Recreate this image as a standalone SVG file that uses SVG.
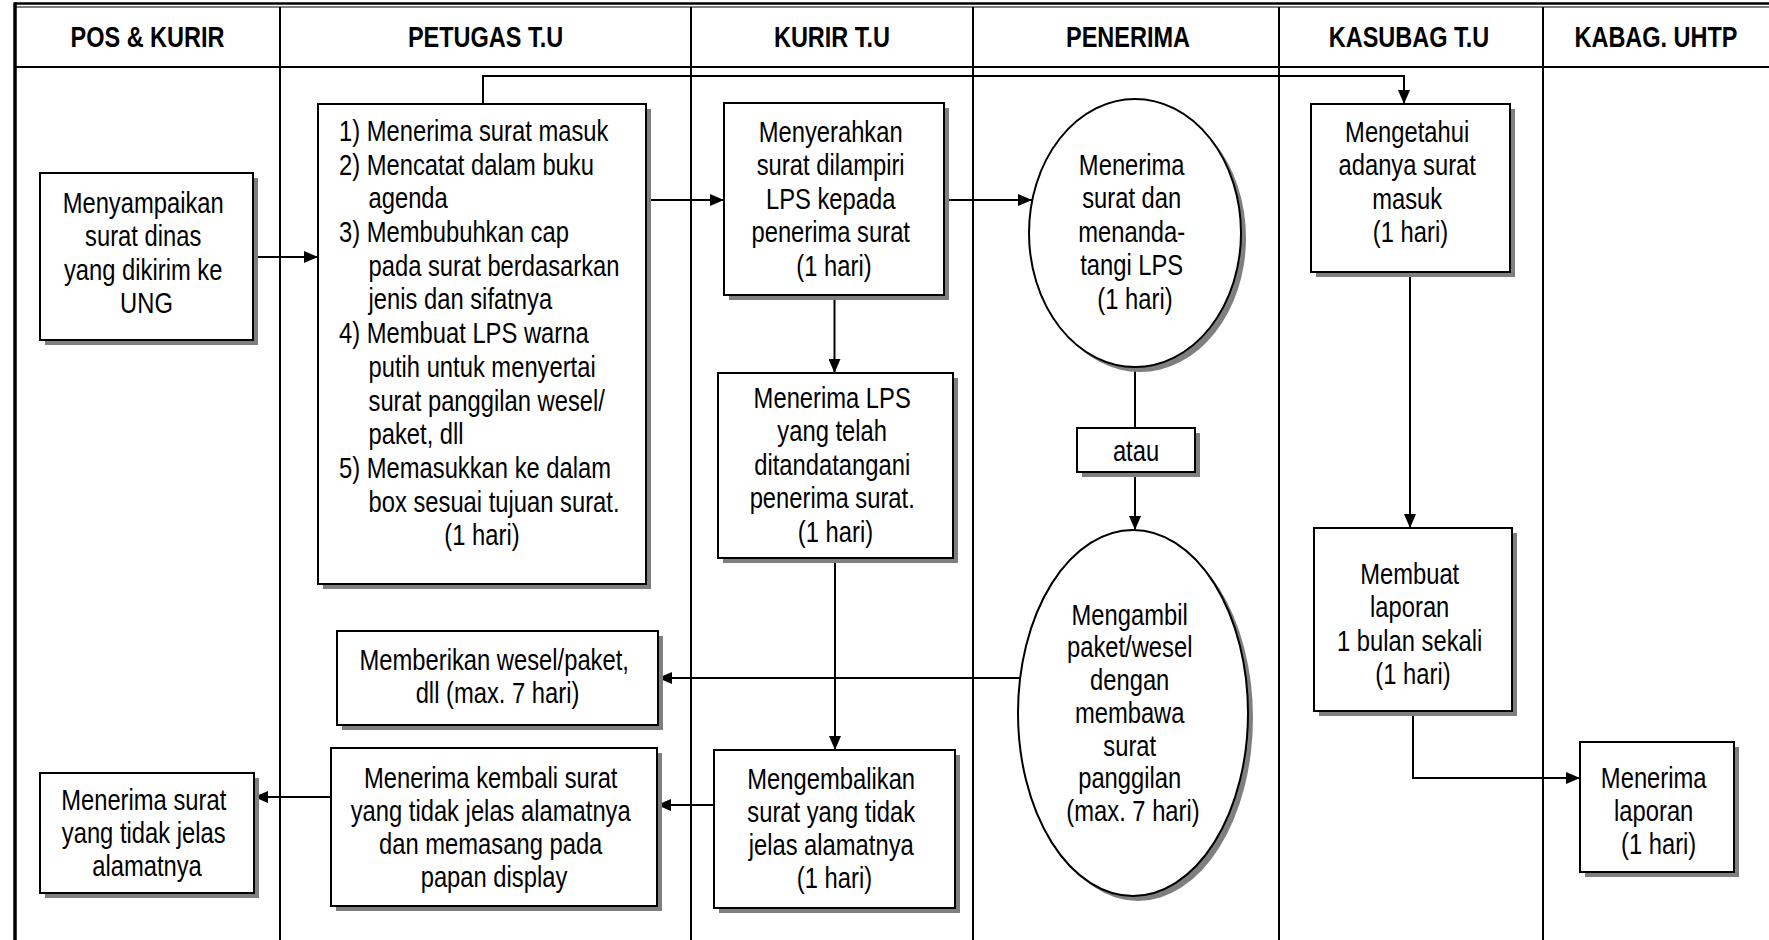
<svg xmlns="http://www.w3.org/2000/svg" width="1769" height="940" viewBox="0 0 1769 940">
  <style>
    .lane { stroke: #000; stroke-width: 2; fill: none; }
    .box { fill: #fff; stroke: #000; stroke-width: 2; }
    .shadow { fill: #7f7f7f; stroke: none; }
    .wire { stroke: #000; stroke-width: 2; fill: none; }
    .arrow { marker-end: url(#head); }
    .t { font-family: "Liberation Sans", Arial, sans-serif; font-size: 29px; fill: #000; }
    .c { text-anchor: middle; }
    .h { font-family: "Liberation Sans", Arial, sans-serif; font-size: 29px; font-weight: bold; text-anchor: middle; fill: #000; }
  </style>
  <defs>
    <marker id="head" markerUnits="userSpaceOnUse" markerWidth="14" markerHeight="12" refX="14" refY="6" orient="auto">
      <path d="M0,0 L14,6 L0,12 Z" fill="#000"/>
    </marker>
  </defs>
  <rect width="1769" height="940" fill="#fff"/>

  <!-- swimlane frame and headers -->
  <g id="lanes">
    <line x1="14" y1="3.5" x2="1769" y2="3.5" stroke="#000" stroke-width="2.5"/>
    <line x1="14" y1="7" x2="1769" y2="7" stroke="#000" stroke-width="1"/>
    <line x1="15" y1="2.5" x2="15" y2="940" stroke="#000" stroke-width="3.5"/>
    <line class="lane" x1="14" y1="67" x2="1769" y2="67"/>
    <line class="lane" x1="280" y1="7" x2="280" y2="940"/>
    <line class="lane" x1="691" y1="7" x2="691" y2="940"/>
    <line class="lane" x1="973" y1="7" x2="973" y2="940"/>
    <line class="lane" x1="1279" y1="7" x2="1279" y2="940"/>
    <line class="lane" x1="1543" y1="7" x2="1543" y2="940"/>
    <text class="h" transform="matrix(0.81 0 0 1 147.5 0)" x="0" y="47">POS &amp; KURIR</text>
    <text class="h" transform="matrix(0.81 0 0 1 485.5 0)" x="0" y="47">PETUGAS T.U</text>
    <text class="h" transform="matrix(0.81 0 0 1 832 0)" x="0" y="47">KURIR T.U</text>
    <text class="h" transform="matrix(0.81 0 0 1 1128 0)" x="0" y="47">PENERIMA</text>
    <text class="h" transform="matrix(0.81 0 0 1 1409 0)" x="0" y="47">KASUBAG T.U</text>
    <text class="h" transform="matrix(0.81 0 0 1 1656 0)" x="0" y="47">KABAG. UHTP</text>
  </g>

  <!-- connectors -->
  <g id="connectors">
    <line class="wire arrow" x1="253" y1="257" x2="318" y2="257"/>
    <line class="wire arrow" x1="646" y1="200" x2="724" y2="200"/>
    <line class="wire arrow" x1="944" y1="200" x2="1032" y2="200"/>
    <polyline class="wire arrow" points="483,104 483,76 1404,76 1404,104"/>
    <line class="wire arrow" x1="834.5" y1="295" x2="834.5" y2="373"/>
    <line class="wire arrow" x1="835" y1="558" x2="835" y2="750"/>
    <line class="wire" x1="1135" y1="367" x2="1135" y2="428"/>
    <line class="wire arrow" x1="1135" y1="472" x2="1135" y2="530"/>
    <line class="wire arrow" x1="1020" y1="678" x2="658" y2="678"/>
    <line class="wire arrow" x1="714" y1="805" x2="657" y2="805"/>
    <line class="wire arrow" x1="331" y1="797" x2="254" y2="797"/>
    <line class="wire arrow" x1="1410" y1="272" x2="1410" y2="528"/>
    <polyline class="wire arrow" points="1413,711 1413,778 1580,778"/>
  </g>

  <g id="n-menyampaikan">
    <rect class="shadow" x="45" y="178" width="213" height="167"/>
    <rect class="box" x="40" y="173" width="213" height="167"/>
    <text class="t c" transform="matrix(0.82 0 0 1 146.5 0)">
      <tspan x="0" y="213">Menyampaikan</tspan>
      <tspan x="0" y="246.5">surat dinas</tspan>
      <tspan x="0" y="280">yang dikirim ke</tspan>
      <tspan x="0" y="313.5">UNG</tspan>
    </text>
  </g>

  <g id="n-petugas">
    <rect class="shadow" x="323" y="109" width="328" height="480"/>
    <rect class="box" x="318" y="104" width="328" height="480"/>
    <text class="t" transform="matrix(0.82 0 0 1 339 0)">
      <tspan x="0" y="141">1) Menerima surat masuk</tspan>
      <tspan x="0" y="174.7">2) Mencatat dalam buku</tspan>
      <tspan x="36" y="208.4">agenda</tspan>
      <tspan x="0" y="242.1">3) Membubuhkan cap</tspan>
      <tspan x="36" y="275.8">pada surat berdasarkan</tspan>
      <tspan x="36" y="309.5">jenis dan sifatnya</tspan>
      <tspan x="0" y="343.2">4) Membuat LPS warna</tspan>
      <tspan x="36" y="376.9">putih untuk menyertai</tspan>
      <tspan x="36" y="410.6">surat panggilan wesel/</tspan>
      <tspan x="36" y="444.3">paket, dll</tspan>
      <tspan x="0" y="478">5) Memasukkan ke dalam</tspan>
      <tspan x="36" y="511.7">box sesuai tujuan surat.</tspan>
    </text>
    <text class="t c" transform="matrix(0.82 0 0 1 482 0)" x="0" y="545.4">(1 hari)</text>
  </g>

  <g id="n-menyerahkan">
    <rect class="shadow" x="729" y="108" width="220" height="192"/>
    <rect class="box" x="724" y="103" width="220" height="192"/>
    <text class="t c" transform="matrix(0.82 0 0 1 834 0)">
      <tspan x="0" y="142">Menyerahkan</tspan>
      <tspan x="0" y="175.5">surat dilampiri</tspan>
      <tspan x="0" y="209">LPS kepada</tspan>
      <tspan x="0" y="242.5">penerima surat</tspan>
      <tspan x="0" y="276">(1 hari)</tspan>
    </text>
  </g>

  <g id="n-menerima-lps">
    <rect class="shadow" x="723" y="378" width="235" height="185"/>
    <rect class="box" x="718" y="373" width="235" height="185"/>
    <text class="t c" transform="matrix(0.82 0 0 1 835.5 0)">
      <tspan x="0" y="408">Menerima LPS</tspan>
      <tspan x="0" y="441.5">yang telah</tspan>
      <tspan x="0" y="475">ditandatangani</tspan>
      <tspan x="0" y="508.5">penerima surat.</tspan>
      <tspan x="0" y="542">(1 hari)</tspan>
    </text>
  </g>

  <g id="n-mengembalikan">
    <rect class="shadow" x="719" y="755" width="241" height="158"/>
    <rect class="box" x="714" y="750" width="241" height="158"/>
    <text class="t c" transform="matrix(0.82 0 0 1 834.5 0)">
      <tspan x="0" y="789">Mengembalikan</tspan>
      <tspan x="0" y="822">surat yang tidak</tspan>
      <tspan x="0" y="855">jelas alamatnya</tspan>
      <tspan x="0" y="888">(1 hari)</tspan>
    </text>
  </g>

  <g id="n-tanda-tangan">
    <ellipse class="shadow" cx="1140" cy="238" rx="106" ry="134"/>
    <ellipse class="box" cx="1135" cy="233" rx="106" ry="134"/>
    <text class="t c" transform="matrix(0.82 0 0 1 1135 0)">
      <tspan x="0" y="175">Menerima</tspan>
      <tspan x="0" y="208.5">surat dan</tspan>
      <tspan x="0" y="242">menanda-</tspan>
      <tspan x="0" y="275.5">tangi LPS</tspan>
      <tspan x="0" y="309">(1 hari)</tspan>
    </text>
  </g>

  <g id="n-atau">
    <rect class="shadow" x="1082" y="433" width="118" height="44"/>
    <rect class="box" x="1077" y="428" width="118" height="44"/>
    <text class="t c" transform="matrix(0.82 0 0 1 1136 0)" x="0" y="461">atau</text>
  </g>

  <g id="n-mengambil">
    <ellipse class="shadow" cx="1138" cy="718" rx="115" ry="183"/>
    <ellipse class="box" cx="1133" cy="713" rx="115" ry="183"/>
    <text class="t c" transform="matrix(0.82 0 0 1 1133 0)">
      <tspan x="0" y="625">Mengambil</tspan>
      <tspan x="0" y="657.5">paket/wesel</tspan>
      <tspan x="0" y="690">dengan</tspan>
      <tspan x="0" y="723">membawa</tspan>
      <tspan x="0" y="756">surat</tspan>
      <tspan x="0" y="788">panggilan</tspan>
      <tspan x="0" y="821">(max. 7 hari)</tspan>
    </text>
  </g>

  <g id="n-memberikan">
    <rect class="shadow" x="342" y="636" width="321" height="94"/>
    <rect class="box" x="337" y="631" width="321" height="94"/>
    <text class="t c" transform="matrix(0.82 0 0 1 497.5 0)">
      <tspan x="0" y="670">Memberikan wesel/paket,</tspan>
      <tspan x="0" y="703">dll (max. 7 hari)</tspan>
    </text>
  </g>

  <g id="n-kembali">
    <rect class="shadow" x="336" y="753" width="326" height="158"/>
    <rect class="box" x="331" y="748" width="326" height="158"/>
    <text class="t c" transform="matrix(0.82 0 0 1 494 0)">
      <tspan x="0" y="788">Menerima kembali surat</tspan>
      <tspan x="0" y="821">yang tidak jelas alamatnya</tspan>
      <tspan x="0" y="854">dan memasang pada</tspan>
      <tspan x="0" y="887">papan display</tspan>
    </text>
  </g>

  <g id="n-tidak-jelas">
    <rect class="shadow" x="45" y="778" width="214" height="120"/>
    <rect class="box" x="40" y="773" width="214" height="120"/>
    <text class="t c" transform="matrix(0.82 0 0 1 147 0)">
      <tspan x="0" y="810">Menerima surat</tspan>
      <tspan x="0" y="843">yang tidak jelas</tspan>
      <tspan x="0" y="876">alamatnya</tspan>
    </text>
  </g>

  <g id="n-mengetahui">
    <rect class="shadow" x="1316" y="109" width="199" height="168"/>
    <rect class="box" x="1311" y="104" width="199" height="168"/>
    <text class="t c" transform="matrix(0.82 0 0 1 1410.5 0)">
      <tspan x="0" y="142">Mengetahui</tspan>
      <tspan x="0" y="175.5">adanya surat</tspan>
      <tspan x="0" y="209">masuk</tspan>
      <tspan x="0" y="242.5">(1 hari)</tspan>
    </text>
  </g>

  <g id="n-laporan">
    <rect class="shadow" x="1319" y="533" width="198" height="183"/>
    <rect class="box" x="1314" y="528" width="198" height="183"/>
    <text class="t c" transform="matrix(0.82 0 0 1 1413 0)">
      <tspan x="0" y="584">Membuat</tspan>
      <tspan x="0" y="617.5">laporan</tspan>
      <tspan x="0" y="651">1 bulan sekali</tspan>
      <tspan x="0" y="684.5">(1 hari)</tspan>
    </text>
  </g>

  <g id="n-terima-laporan">
    <rect class="shadow" x="1585" y="747" width="154" height="130"/>
    <rect class="box" x="1580" y="742" width="154" height="130"/>
    <text class="t c" transform="matrix(0.82 0 0 1 1657 0)">
      <tspan x="0" y="788">Menerima</tspan>
      <tspan x="0" y="821">laporan</tspan>
      <tspan x="2" y="854">(1 hari)</tspan>
    </text>
  </g>
</svg>
